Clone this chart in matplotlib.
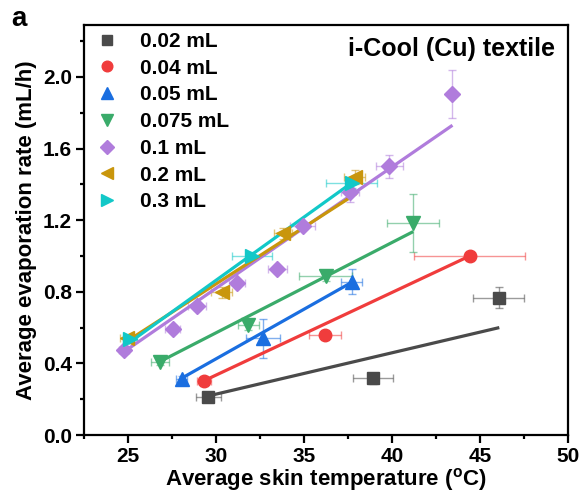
import matplotlib
matplotlib.use("Agg")
import matplotlib.pyplot as plt
from matplotlib.ticker import MultipleLocator

plt.rcParams['font.family'] = ['Liberation Sans', 'DejaVu Sans']
plt.rcParams['font.weight'] = 'bold'
plt.rcParams['mathtext.fontset'] = 'custom'
plt.rcParams['mathtext.rm'] = 'Liberation Sans:bold'
plt.rcParams['mathtext.bf'] = 'Liberation Sans:bold'

labels = ["0.02 mL", "0.04 mL", "0.05 mL", "0.075 mL", "0.1 mL", "0.2 mL", "0.3 mL"]
colors = ["#4a4a4a", "#f03c3c", "#1a6ee0", "#3aab6a", "#b07cdc", "#c9960c", "#12c8c8"]
markers = ["s", "o", "^", "v", "D", "<", ">"]

x_002 = [29.57, 38.94, 46.07]
y_002 = [0.214, 0.317, 0.767]
xe_002 = [0.71, 1.14, 1.45]
ye_002 = [0.02, 0.03, 0.06]
fx_002 = [29.57, 46.1]
fy_002 = [0.218, 0.60]

x_004 = [29.33, 36.2, 44.42]
y_004 = [0.303, 0.559, 1.002]
xe_004 = [0.4, 0.9, 3.14]
ye_004 = [0.02, 0.02, 0.02]
fx_004 = [29.33, 44.42]
fy_004 = [0.303, 1.0]

x_005 = [28.06, 32.69, 37.71]
y_005 = [0.311, 0.540, 0.857]
xe_005 = [0.3, 0.96, 0.58]
ye_005 = [0.02, 0.11, 0.068]
fx_005 = [28.06, 37.67]
fy_005 = [0.317, 0.85]

x_0075 = [26.83, 31.84, 36.25, 41.21]
y_0075 = [0.41, 0.615, 0.888, 1.183]
xe_0075 = [0.5, 0.6, 1.5, 1.48]
ye_0075 = [0.02, 0.03, 0.03, 0.163]
fx_0075 = [26.83, 41.21]
fy_0075 = [0.41, 1.136]

x_01 = [24.79, 27.55, 28.92, 31.22, 33.49, 34.93, 37.61, 39.85, 43.44]
y_01 = [0.475, 0.592, 0.72, 0.851, 0.926, 1.168, 1.36, 1.50, 1.905]
xe_01 = [0.3, 0.43, 0.5, 0.45, 0.54, 0.72, 0.5, 0.76, 0.1]
ye_01 = [0.02, 0.02, 0.02, 0.02, 0.02, 0.02, 0.06, 0.063, 0.134]
fx_01 = [24.79, 43.44]
fy_01 = [0.465, 1.73]

x_02 = [24.94, 30.33, 33.83, 37.9]
y_02 = [0.54, 0.796, 1.127, 1.44]
xe_02 = [0.4, 0.6, 0.5, 0.6]
ye_02 = [0.02, 0.03, 0.03, 0.04]
fx_02 = [24.9, 38.0]
fy_02 = [0.52, 1.35]

x_03 = [25.13, 32.04, 37.72]
y_03 = [0.535, 1.0, 1.41]
xe_03 = [0.4, 1.13, 1.44]
ye_03 = [0.02, 0.02, 0.03]
fx_03 = [25.03, 37.74]
fy_03 = [0.512, 1.41]

series = [
    (x_002, y_002, xe_002, ye_002, fx_002, fy_002),
    (x_004, y_004, xe_004, ye_004, fx_004, fy_004),
    (x_005, y_005, xe_005, ye_005, fx_005, fy_005),
    (x_0075, y_0075, xe_0075, ye_0075, fx_0075, fy_0075),
    (x_01, y_01, xe_01, ye_01, fx_01, fy_01),
    (x_02, y_02, xe_02, ye_02, fx_02, fy_02),
    (x_03, y_03, xe_03, ye_03, fx_03, fy_03),
]

fig = plt.figure(figsize=(5.84, 4.95), dpi=100)
ax = fig.add_axes([0.1433, 0.1212, 0.8293, 0.8283])

handles = []
for (x, y, xe, ye, fx, fy), lab, c, m in zip(series, labels, colors, markers):
    ax.errorbar(x, y, xerr=xe, yerr=ye, fmt='none', ecolor=c, alpha=0.55,
                elinewidth=1.0, capsize=3, capthick=1.0, zorder=2)
    ax.plot(fx, fy, '-', color=c, lw=2.3, zorder=3, solid_capstyle='butt')
    ms = 9 if m in ('s', 'o') else (8 if m == 'D' else 10)
    h, = ax.plot(x, y, ls='none', marker=m, color=c, ms=ms, mec=c, zorder=4, label=lab)
    handles.append(h)

ax.set_xlim(22.5, 50)
ax.set_ylim(0, 2.29)
ax.xaxis.set_major_locator(MultipleLocator(5))
ax.xaxis.set_minor_locator(MultipleLocator(2.5))
ax.yaxis.set_major_locator(MultipleLocator(0.4))
ax.yaxis.set_minor_locator(MultipleLocator(0.2))
ax.yaxis.set_major_formatter(matplotlib.ticker.FormatStrFormatter('%.1f'))

for s in ax.spines.values():
    s.set_linewidth(1.6)
ax.tick_params(which='major', direction='out', length=5.5, width=1.6, labelsize=15, pad=3)
ax.tick_params(which='minor', direction='out', length=3, width=1.6)
for t in ax.get_xticklabels() + ax.get_yticklabels():
    t.set_fontweight('bold')

ax.set_xlabel(r'Average skin temperature (${}^{\mathbf{o}}$C)', fontsize=16,
              fontweight='bold', labelpad=0)
ax.set_ylabel('Average evaporation rate (mL/h)', fontsize=16, fontweight='bold', labelpad=4)

ax.text(0.973, 0.941, 'i-Cool (Cu) textile', transform=ax.transAxes, ha='right',
        va='center', fontsize=18, fontweight='bold')
fig.text(0.032, 0.962, 'a', fontsize=20, fontweight='bold', ha='center', va='center')

leg = ax.legend(handles=handles, loc='upper left', frameon=False, fontsize=15,
                handlelength=0.8, handletextpad=1.16, labelspacing=0.37,
                borderpad=0.2, borderaxespad=0.0, markerscale=0.85,
                bbox_to_anchor=(0.023, 0.993))

fig.savefig('out.png', dpi=100)
